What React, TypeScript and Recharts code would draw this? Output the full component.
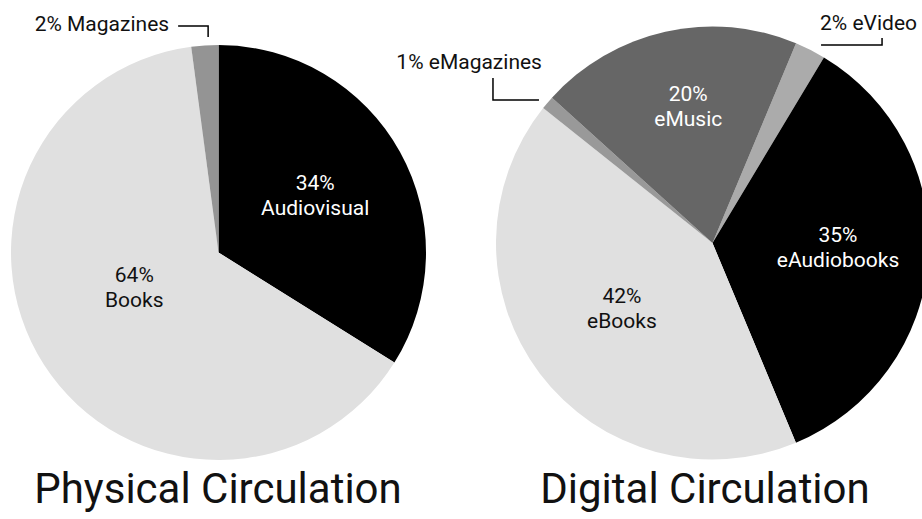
import { PieChart, Pie, Cell } from "recharts";

const physicalNames = ["Audiovisual", "Books", "Magazines"];
const physicalValues = [33.9, 64.0, 2.1];

const digitalNames = ["eVideo", "eAudiobooks", "eBooks", "eMagazines", "eMusic"];
const digitalValues = [2.3, 35.1, 42.0, 1.0, 19.6];

const chartTitles = ["Physical Circulation", "Digital Circulation"];

const physicalData = physicalNames.map((name, i) => ({ name, value: physicalValues[i] }));
const digitalData = digitalNames.map((name, i) => ({ name, value: digitalValues[i] }));

const COLORS: Record<string, string> = {
  Audiovisual: "#000000",
  Books: "#e0e0e0",
  Magazines: "#949494",
  eVideo: "#ababab",
  eAudiobooks: "#000000",
  eBooks: "#e0e0e0",
  eMagazines: "#999999",
  eMusic: "#666666",
};

// inside labels: radius fraction + clockwise nudge in degrees
const INSIDE: Record<string, { r: number; shift: number; color: string }> = {
  Audiovisual: { r: 0.54, shift: -1.4, color: "#ffffff" },
  Books: { r: 0.44, shift: 10, color: "#111111" },
  eMusic: { r: 0.64, shift: 2.5, color: "#ffffff" },
  eAudiobooks: { r: 0.58, shift: -2.2, color: "#ffffff" },
  eBooks: { r: 0.515, shift: 1.4, color: "#111111" },
};

// callouts for the small slices, offsets from the slice's outer edge point
const CALLOUT: Record<string, { pts: number[][]; tx: number; ty: number; anchor: "start" | "end" }> = {
  Magazines: { pts: [[3.3, -8.5], [3.3, -19.5], [-26.7, -19.5]], tx: -35.7, ty: -21, anchor: "end" },
  eMagazines: { pts: [[-8.5, -2.8], [-54.5, -2.8], [-54.5, -24.8]], tx: -5.5, ty: -40.5, anchor: "end" },
  eVideo: { pts: [[10.8, -4.8], [71.8, -4.8], [71.8, -11.8]], tx: 9.8, ty: -27.3, anchor: "start" },
};

const FONT = "Roboto, 'Noto Sans', sans-serif";

function renderLabel(props: any) {
  const { cx, cy, midAngle, outerRadius, percent, name } = props;
  const pct = `${Math.round(percent * 100)}%`;
  const theta = ((90 - midAngle) * Math.PI) / 180;

  const inside = INSIDE[name];
  if (inside) {
    const t = theta + (inside.shift * Math.PI) / 180;
    const r = outerRadius * inside.r;
    const x = cx + r * Math.sin(t);
    const y = cy - r * Math.cos(t);
    return (
      <g key={name}>
        <text x={x} y={y - 12.5} textAnchor="middle" dominantBaseline="central" fill={inside.color} fontSize={21} fontFamily={FONT}>
          {pct}
        </text>
        <text x={x} y={y + 12.5} textAnchor="middle" dominantBaseline="central" fill={inside.color} fontSize={21} fontFamily={FONT}>
          {name}
        </text>
      </g>
    );
  }

  const c = CALLOUT[name];
  if (!c) return null;
  const px = cx + outerRadius * Math.sin(theta);
  const py = cy - outerRadius * Math.cos(theta);
  const points = c.pts.map(([dx, dy]) => `${px + dx},${py + dy}`).join(" ");
  return (
    <g key={name}>
      <polyline points={points} fill="none" stroke="#000" strokeWidth={1.5} />
      <text x={px + c.tx} y={py + c.ty} textAnchor={c.anchor} dominantBaseline="central" fill="#111" fontSize={21} fontFamily={FONT}>
        {`${pct} ${name}`}
      </text>
    </g>
  );
}

const titleStyle = {
  position: "absolute" as const,
  top: 467.5,
  width: 440,
  textAlign: "center" as const,
  fontSize: 42,
  lineHeight: "42px",
  color: "#111",
  whiteSpace: "nowrap" as const,
};

export default function App() {
  return (
    <div style={{ position: "absolute", left: 0, top: 0, width: 922, height: 519, background: "#fff", fontFamily: FONT, overflow: "hidden" }}>
      <PieChart width={922} height={519} margin={{ top: 0, right: 0, bottom: 0, left: 0 }}>
        <Pie
          data={physicalData}
          dataKey="value"
          nameKey="name"
          cx={218.5}
          cy={252.5}
          outerRadius={207.5}
          startAngle={90}
          endAngle={-270}
          stroke="none"
          label={renderLabel}
          labelLine={false}
          isAnimationActive={false}
        >
          {physicalData.map((d) => (
            <Cell key={d.name} fill={COLORS[d.name]} />
          ))}
        </Pie>
        <Pie
          data={digitalData}
          dataKey="value"
          nameKey="name"
          cx={712.5}
          cy={243}
          outerRadius={216.5}
          startAngle={67.3}
          endAngle={-292.7}
          stroke="none"
          label={renderLabel}
          labelLine={false}
          isAnimationActive={false}
        >
          {digitalData.map((d) => (
            <Cell key={d.name} fill={COLORS[d.name]} />
          ))}
        </Pie>
      </PieChart>
      <div style={{ ...titleStyle, left: 218 - 220 }}>{chartTitles[0]}</div>
      <div style={{ ...titleStyle, left: 705 - 220 }}>{chartTitles[1]}</div>
    </div>
  );
}
